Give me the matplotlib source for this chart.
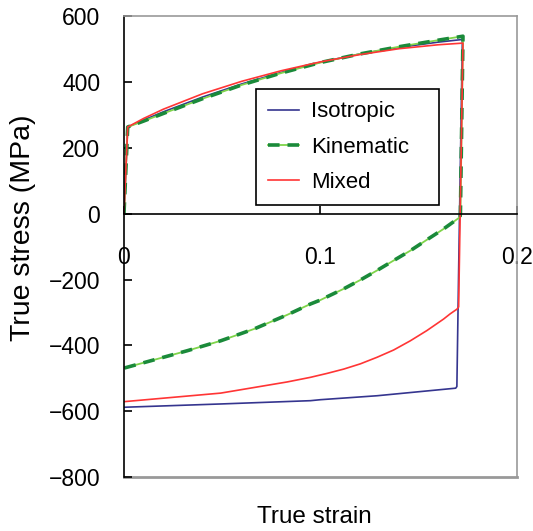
import matplotlib
matplotlib.use('Agg')
import matplotlib.pyplot as plt
import numpy as np

plt.rcParams['font.family'] = ['Liberation Sans', 'DejaVu Sans']

# loading branch (common strain grid)
load_strain = [0, 0.0019, 0.01, 0.02, 0.04, 0.06, 0.08, 0.10, 0.12, 0.14, 0.16]
iso_load = [0, 264, 285, 310, 355, 395, 430, 461, 486, 506, 522]
kin_load = [0, 264, 282, 305, 350, 392, 428, 460, 486, 508, 528]
mix_load = [0, 264, 290, 318, 365, 403, 435, 462, 484, 502, 514]

# peak and unloading / reverse loading
iso_rev_strain = [0.1722, 0.1703, 0.1694, 0.1688, 0.1288, 0.1, 0.0949, 0.0492, 0]
iso_rev = [530, -170, -525, -530, -553, -565, -568, -578, -588]

kin_rev_strain = [0.1725, 0.1712, 0.171, 0.1626, 0.1541, 0.1457, 0.1372, 0.1288, 0.1203,
                  0.1118, 0.1034, 0.1, 0.0949, 0.0831, 0.0662, 0.0492, 0.0323, 0]
kin_rev = [540, 0, -10, -46, -79, -112, -142, -172, -201,
           -228, -252, -262, -274, -307, -350, -386, -416, -469]

mix_rev_strain = [0.1725, 0.1703, 0.1694, 0.166, 0.1626, 0.1541, 0.1457, 0.1372, 0.1288,
                  0.1203, 0.1118, 0.1034, 0.0949, 0.0831, 0.0492, 0]
mix_rev = [519, -283, -290, -304, -320, -355, -386, -414, -436,
           -456, -472, -485, -497, -511, -545, -571]

fig = plt.figure(figsize=(5.33, 5.31), dpi=100)
ax = fig.add_axes([0.2326, 0.1017, 0.7374, 0.8673])

iso_x = load_strain + iso_rev_strain
iso_y = iso_load + iso_rev
kin_x = load_strain + kin_rev_strain
kin_y = kin_load + kin_rev
mix_x = load_strain + mix_rev_strain
mix_y = mix_load + mix_rev

l_iso, = ax.plot(iso_x, iso_y, color='#35358f', lw=1.2)
l_kin2, = ax.plot(kin_x, kin_y, color='#7fd44a', lw=1.3)
l_kin, = ax.plot(kin_x, kin_y, color='#1a8a3a', lw=2.6, dashes=(3.2, 2.2))
l_mix, = ax.plot(mix_x, mix_y, color='#ff3535', lw=1.2)

ax.set_xlim(0, 0.2)
ax.set_ylim(-800, 600)
ax.set_xticks([0, 0.1, 0.2])
ax.set_xticklabels(['0', '0.1', '0.2'])
ax.set_yticks(np.arange(-800, 601, 200))
ax.set_yticklabels([str(v).replace('-', '\u2212') for v in range(-800, 601, 200)])

ax.spines['bottom'].set_position(('data', 0))
ax.spines['bottom'].set_color('black')
ax.spines['bottom'].set_linewidth(1.2)
ax.spines['left'].set_color('black')
ax.spines['left'].set_linewidth(1.2)
for s in ['top', 'right']:
    ax.spines[s].set_color('#999999')
    ax.spines[s].set_linewidth(1.2)
ax.axhline(-800, color='#999999', lw=2.0, clip_on=False, zorder=0)

ax.tick_params(axis='x', direction='in', length=6, width=1.2, pad=23, labelsize=16.5)
ax.tick_params(axis='y', direction='in', length=6, width=1.2, pad=17, labelsize=16.5)

ax.set_ylabel('True stress (MPa)', fontsize=20.5)
ax.yaxis.set_label_coords(-0.225, 0.542)
fig.text(0.59, 0.006, 'True strain', fontsize=17.5, ha='center', va='bottom')

leg = ax.legend([l_iso, (l_kin2, l_kin), l_mix], ['Isotropic', 'Kinematic', 'Mixed'],
                loc='upper left', bbox_to_anchor=(0.335, 0.606, 0.4665, 0.236),
                mode='expand', borderaxespad=0,
                fontsize=16, fancybox=False, framealpha=1, edgecolor='black',
                handlelength=1.4, labelspacing=0.64, borderpad=0.55, handletextpad=0.55)
leg.get_frame().set_linewidth(1.2)

plt.savefig('out.png', dpi=100)
